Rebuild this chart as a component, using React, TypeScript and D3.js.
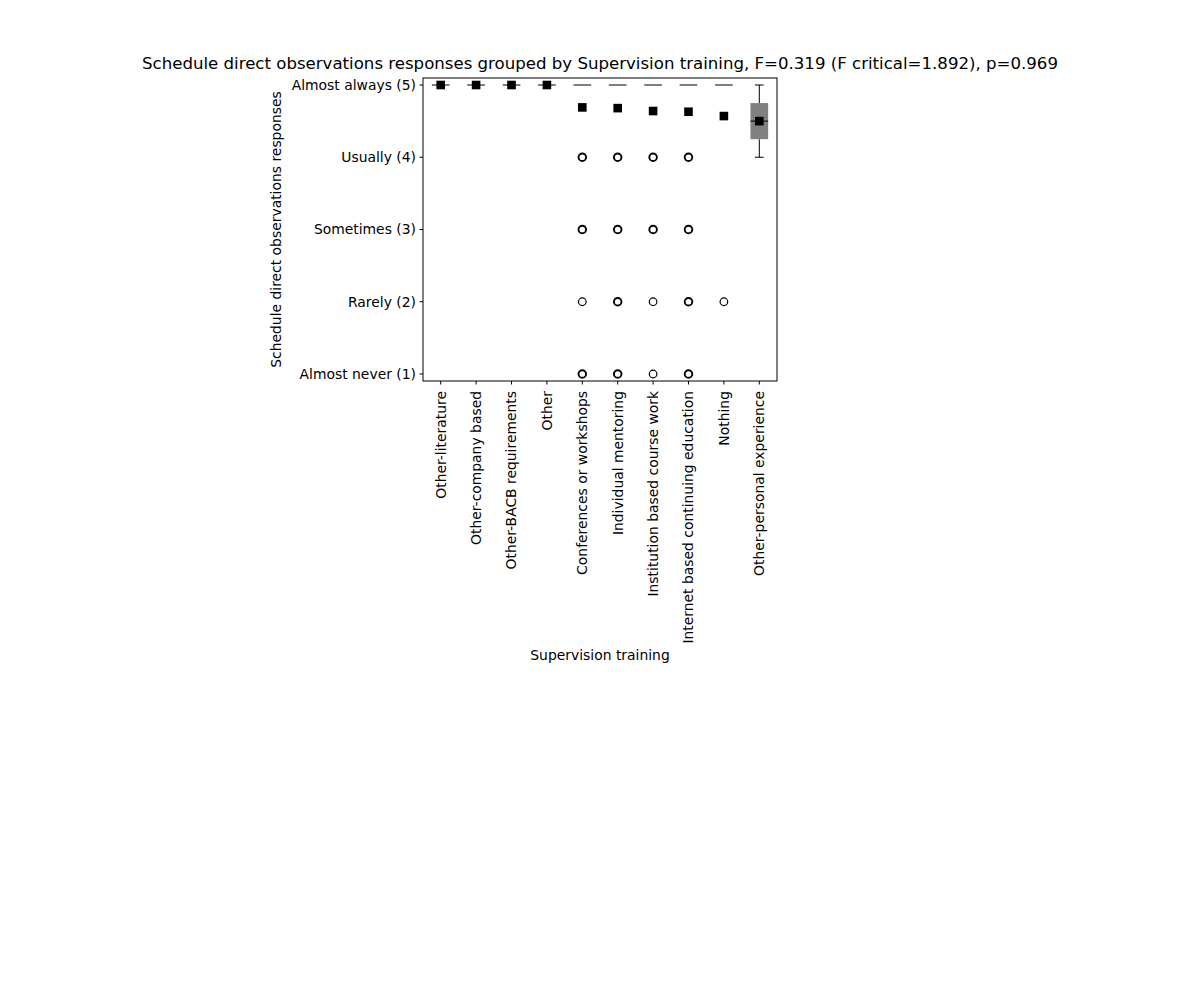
import * as d3 from 'd3';

const CATEGORIES = [
  'Other-literature',
  'Other-company based',
  'Other-BACB requirements',
  'Other',
  'Conferences or workshops',
  'Individual mentoring',
  'Institution based course work',
  'Internet based continuing education',
  'Nothing',
  'Other-personal experience',
];

const MEANS = [5, 5, 5, 5, 4.69, 4.68, 4.64, 4.63, 4.57, 4.5];
const Q1 = [5, 5, 5, 5, 5, 5, 5, 5, 5, 4.25];
const MEDIANS = [5, 5, 5, 5, 5, 5, 5, 5, 5, 4.5];
const Q3 = [5, 5, 5, 5, 5, 5, 5, 5, 5, 4.75];
const WHISK_LO = [5, 5, 5, 5, 5, 5, 5, 5, 5, 4];
const WHISK_HI = [5, 5, 5, 5, 5, 5, 5, 5, 5, 5];
// repeated values = several responses at the same level
const OUTLIERS: number[][] = [
  [], [], [], [],
  [4, 4, 3, 3, 2, 1, 1],
  [4, 4, 3, 3, 2, 2, 1, 1],
  [4, 4, 3, 3, 2, 1],
  [4, 4, 3, 3, 2, 2, 1, 1],
  [2],
  [],
];

const Y_TICKS = [1, 2, 3, 4, 5];
const Y_LABELS = ['Almost never (1)', 'Rarely (2)', 'Sometimes (3)', 'Usually (4)', 'Almost always (5)'];

const TITLE = 'Schedule direct observations responses grouped by Supervision training, F=0.319 (F critical=1.892), p=0.969';

export default function App() {
  const left = 423, right = 777, top = 78, bottom = 381;
  const x = d3.scaleLinear().domain([0.5, CATEGORIES.length + 0.5]).range([left, right]);
  const y = d3.scaleLinear().domain([5.097, 0.903]).range([top, bottom]);
  const boxW = (x(1) - x(0)) * 0.5;
  const capW = boxW / 2;
  const font = 'DejaVu Sans, sans-serif';
  const fs = 13.9;

  return (
    <svg width={1200} height={1000} style={{ position: 'absolute', left: 0, top: 0, background: '#fff' }} fontFamily={font}>
      <text x={600} y={69} textAnchor="middle" fontSize={16.6}>{TITLE}</text>

      {CATEGORIES.map((c, i) => {
        const cx = x(i + 1);
        const isBox = Q3[i] !== Q1[i];
        const counts = d3.rollup(OUTLIERS[i], (v) => v.length, (v) => v);
        return (
          <g key={c}>
            {WHISK_HI[i] !== Q3[i] && (
              <>
                <line x1={cx} x2={cx} y1={y(Q3[i])} y2={y(WHISK_HI[i])} stroke="#000" />
                <line x1={cx - capW / 2} x2={cx + capW / 2} y1={y(WHISK_HI[i])} y2={y(WHISK_HI[i])} stroke="#000" />
              </>
            )}
            {WHISK_LO[i] !== Q1[i] && (
              <>
                <line x1={cx} x2={cx} y1={y(Q1[i])} y2={y(WHISK_LO[i])} stroke="#000" />
                <line x1={cx - capW / 2} x2={cx + capW / 2} y1={y(WHISK_LO[i])} y2={y(WHISK_LO[i])} stroke="#000" />
              </>
            )}
            {isBox && (
              <rect x={cx - boxW / 2} width={boxW} y={y(Q3[i])} height={y(Q1[i]) - y(Q3[i])} fill="#808080" />
            )}
            <line x1={cx - boxW / 2} x2={cx + boxW / 2} y1={y(MEDIANS[i])} y2={y(MEDIANS[i])} stroke="#000" />
            {Array.from(counts).map(([v, n]) => (
              <circle key={v} cx={cx} cy={y(v)} r={3.8} fill="none" stroke="#000" strokeWidth={n > 1 ? 1.9 : 1.2} />
            ))}
            <rect x={cx - 4.3} y={y(MEANS[i]) - 4.3} width={8.6} height={8.6} fill="#000" />
          </g>
        );
      })}

      <rect x={left} y={top} width={right - left} height={bottom - top} fill="none" stroke="#000" strokeWidth={1} />

      {Y_TICKS.map((t, i) => (
        <g key={t}>
          <line x1={left} x2={left - 3.5} y1={y(t)} y2={y(t)} stroke="#000" />
          <text x={left - 7} y={y(t)} dy="0.35em" textAnchor="end" fontSize={fs}>{Y_LABELS[i]}</text>
        </g>
      ))}
      <text transform={`translate(281,${(top + bottom) / 2}) rotate(-90)`} textAnchor="middle" fontSize={fs}>
        Schedule direct observations responses
      </text>

      {CATEGORIES.map((c, i) => (
        <g key={c}>
          <line x1={x(i + 1)} x2={x(i + 1)} y1={bottom} y2={bottom + 3.5} stroke="#000" />
          <text transform={`translate(${x(i + 1)},${bottom + 10}) rotate(-90)`} textAnchor="end" dy="0.35em" fontSize={fs}>{c}</text>
        </g>
      ))}
      <text x={600} y={660} textAnchor="middle" fontSize={fs}>Supervision training</text>
    </svg>
  );
}
